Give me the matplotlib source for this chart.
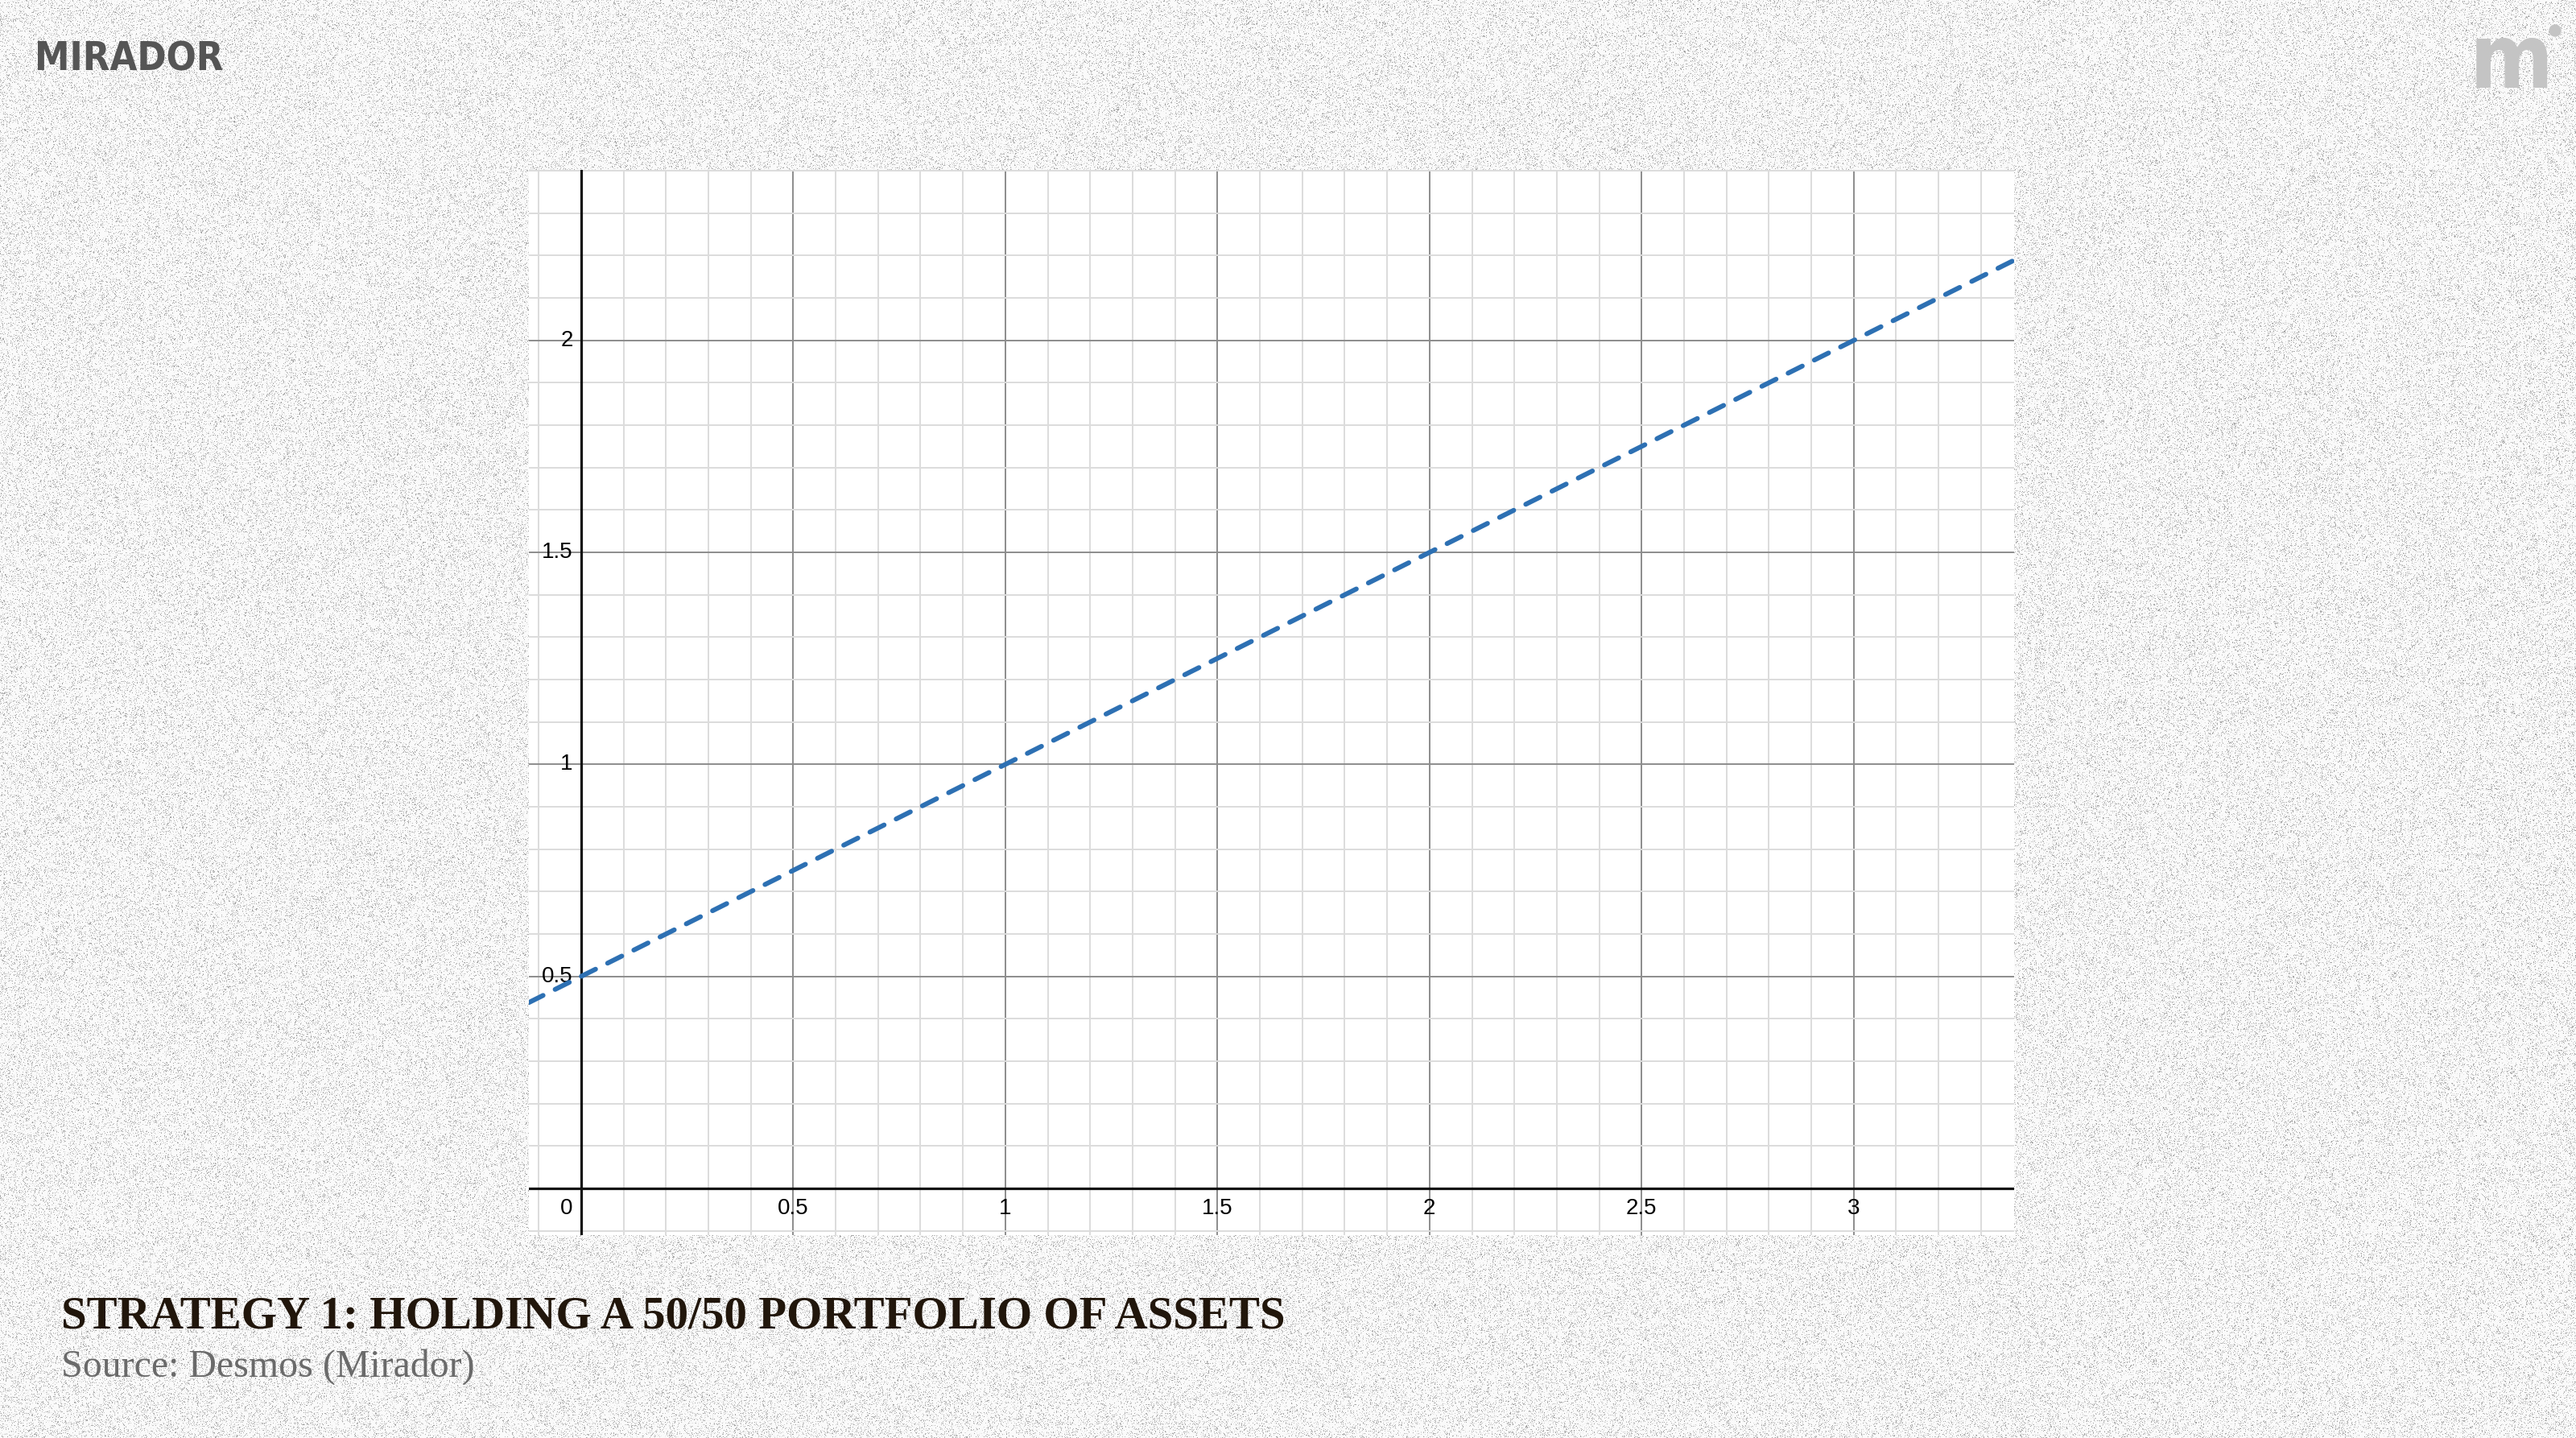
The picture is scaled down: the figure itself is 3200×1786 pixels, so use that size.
import matplotlib.pyplot as plt
import numpy as np
from matplotlib.patches import Circle

# data
line_x = [0.0, 1.0, 2.0, 3.0]
line_y = [0.5, 1.0, 1.5, 2.0]
x_ticks = [0.5, 1.0, 1.5, 2.0, 2.5, 3.0]
y_ticks = [0.5, 1.0, 1.5, 2.0]
x_range = (-0.123, 3.378)
y_range = (-0.11, 2.402)

title = "STRATEGY 1: HOLDING A 50/50 PORTFOLIO OF ASSETS"
source = "Source: Desmos (Mirador)"

W, H = 3200, 1786
fig = plt.figure(figsize=(W / 100, H / 100), dpi=100)

# grainy paper background, pixel coords
bg = fig.add_axes([0, 0, 1, 1], zorder=-1)
rng = np.random.default_rng(7)
noise = np.full((H, W), 0.978)
speck = rng.random((H, W)) < 0.2
noise[speck] -= rng.uniform(0.04, 0.38, speck.sum())
bg.imshow(noise, cmap="gray", vmin=0, vmax=1, extent=[0, W, H, 0], interpolation="nearest")
bg.set_xlim(0, W)
bg.set_ylim(H, 0)
bg.axis("off")

# logos
bg.text(43, 87, "MIRADOR", fontsize=35, fontweight="bold", fontstretch="condensed",
        color="#555555", family="DejaVu Sans", ha="left", va="baseline")
bg.text(3068, 109, "m", fontsize=80, fontweight="bold", fontstretch="condensed",
        color="#c4c4c4", family="DejaVu Sans", ha="left", va="baseline")
bg.add_patch(Circle((3174, 38), 7, color="#c4c4c4"))

# title and source
bg.text(76, 1649, title, fontsize=41, fontweight="bold", color="#21160b",
        family="Liberation Serif", ha="left", va="baseline")
bg.text(76, 1710, source, fontsize=34.5, color="#6a6a6a",
        family="Liberation Serif", ha="left", va="baseline")

# graph
ax = fig.add_axes([657 / W, 1 - 1534 / H, (2502 - 657) / W, (1534 - 211) / H])
ax.set_facecolor("white")
ax.set_xlim(*x_range)
ax.set_ylim(*y_range)
for s in ax.spines.values():
    s.set_visible(False)

ax.set_xticks(np.arange(0, 3.5, 0.5))
ax.set_yticks(np.arange(0, 2.5, 0.5))
ax.set_xticks(np.arange(-0.1, 3.4, 0.1), minor=True)
ax.set_yticks(np.arange(-0.1, 2.45, 0.1), minor=True)
ax.tick_params(which="both", length=0, labelbottom=False, labelleft=False)
ax.grid(which="minor", color="#dcdcdc", linewidth=1.4)
ax.grid(which="major", color="#8c8c8c", linewidth=1.4)
ax.set_axisbelow(True)

ax.axhline(0, color="#111111", linewidth=2.3, zorder=2)
ax.axvline(0, color="#111111", linewidth=2.3, zorder=2)

lbl = dict(fontsize=20, family="Liberation Sans", color="black")
for v in x_ticks:
    ax.text(v, -0.022, f"{v:g}", ha="center", va="top", **lbl)
for v in y_ticks:
    ax.text(-0.019, v, f"{v:g}", ha="right", va="center", **lbl)
ax.text(-0.019, -0.022, "0", ha="right", va="top", **lbl)

ax.axline((line_x[0], line_y[0]), (line_x[-1], line_y[-1]), color="#2d70b3",
          linewidth=4.3, linestyle=(0, (3.3, 2.8)), dash_capstyle="round", zorder=3)

fig.savefig("out.png", dpi=100)
